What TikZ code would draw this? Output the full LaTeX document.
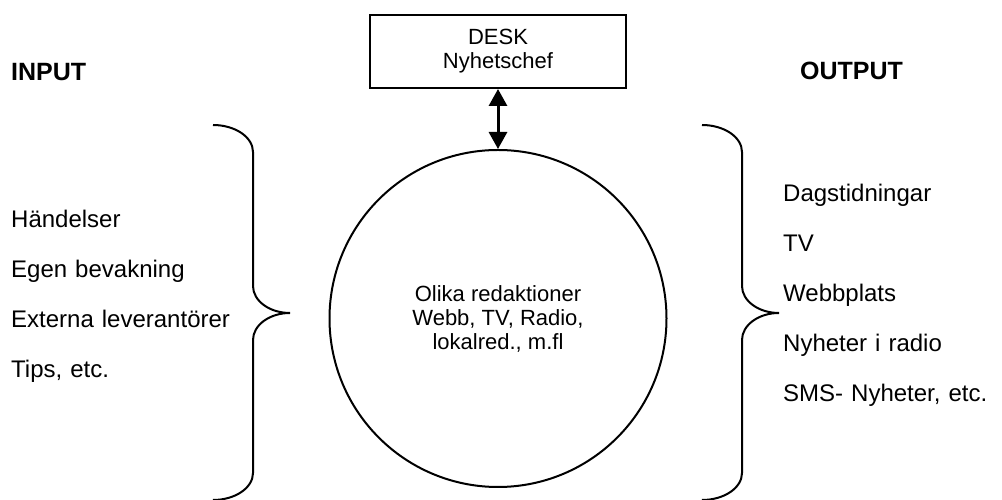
\documentclass[tikz,border=0pt]{standalone}
\usepackage{fontspec}
\setmainfont{Liberation Sans}
\usetikzlibrary{positioning,arrows.meta}

\tikzset{
  bracket/.pic={
    \draw[line width=2pt] (0,0) arc[start angle=90,end angle=0,x radius=40pt,y radius=27pt]
      -- ++(0,-134pt) arc[start angle=180,end angle=270,x radius=37pt,y radius=27pt]
      arc[start angle=90,end angle=180,x radius=37pt,y radius=27pt]
      -- ++(0,-133pt) arc[start angle=0,end angle=-90,x radius=40pt,y radius=27pt];
  }
}

\begin{document}
\begin{tikzpicture}[x=1pt, y=1pt, node distance=27.5pt,
    item/.style={inner sep=0pt, text width=250pt, align=left, text height=17pt, text depth=5pt, font=\fontsize{24pt}{28pt}\selectfont},
    head/.style={inner sep=0pt, anchor=west, font=\fontsize{25pt}{30pt}\selectfont\bfseries},
    small/.style={align=center, font=\fontsize{22pt}{24pt}\selectfont}]
    \useasboundingbox (0,0) rectangle (1002,500);
    \node (desk) [small, draw, line width=2pt, minimum width=256pt, minimum height=73pt] at (498,448.5) {DESK\\Nyhetschef};
    \node (red) [small, draw, circle, line width=2pt, minimum size=337pt, inner sep=0pt] at (498,181.5) {Olika redaktioner\\Webb, TV, Radio,\\lokalred., m.fl};
    \draw[line width=3pt, {Triangle[length=17pt,width=18pt]}-{Triangle[length=17pt,width=18pt]}] (desk) -- (red);

    \node (input) [head] at (11,428) {INPUT};
    \node (handelser) [item, anchor=west] at (11,278) {Händelser};
    \node (egen) [item, below=of handelser] {Egen bevakning};
    \node (externa) [item, below=of egen] {Externa leverantörer};
    \node (tips) [item, below=of externa] {Tips, etc.};

    \node (output) [head] at (800,429) {OUTPUT};
    \node (dags) [item, anchor=west] at (783,304) {Dagstidningar};
    \node (tv) [item, below=of dags] {TV};
    \node (webb) [item, below=of tv] {Webbplats};
    \node (radio) [item, below=of webb] {Nyheter i radio};
    \node (sms) [item, below=of radio] {SMS- Nyheter, etc.};

    \pic at (213,375) {bracket};
    \pic at (702,375) {bracket};
  \end{tikzpicture}
\end{document}
